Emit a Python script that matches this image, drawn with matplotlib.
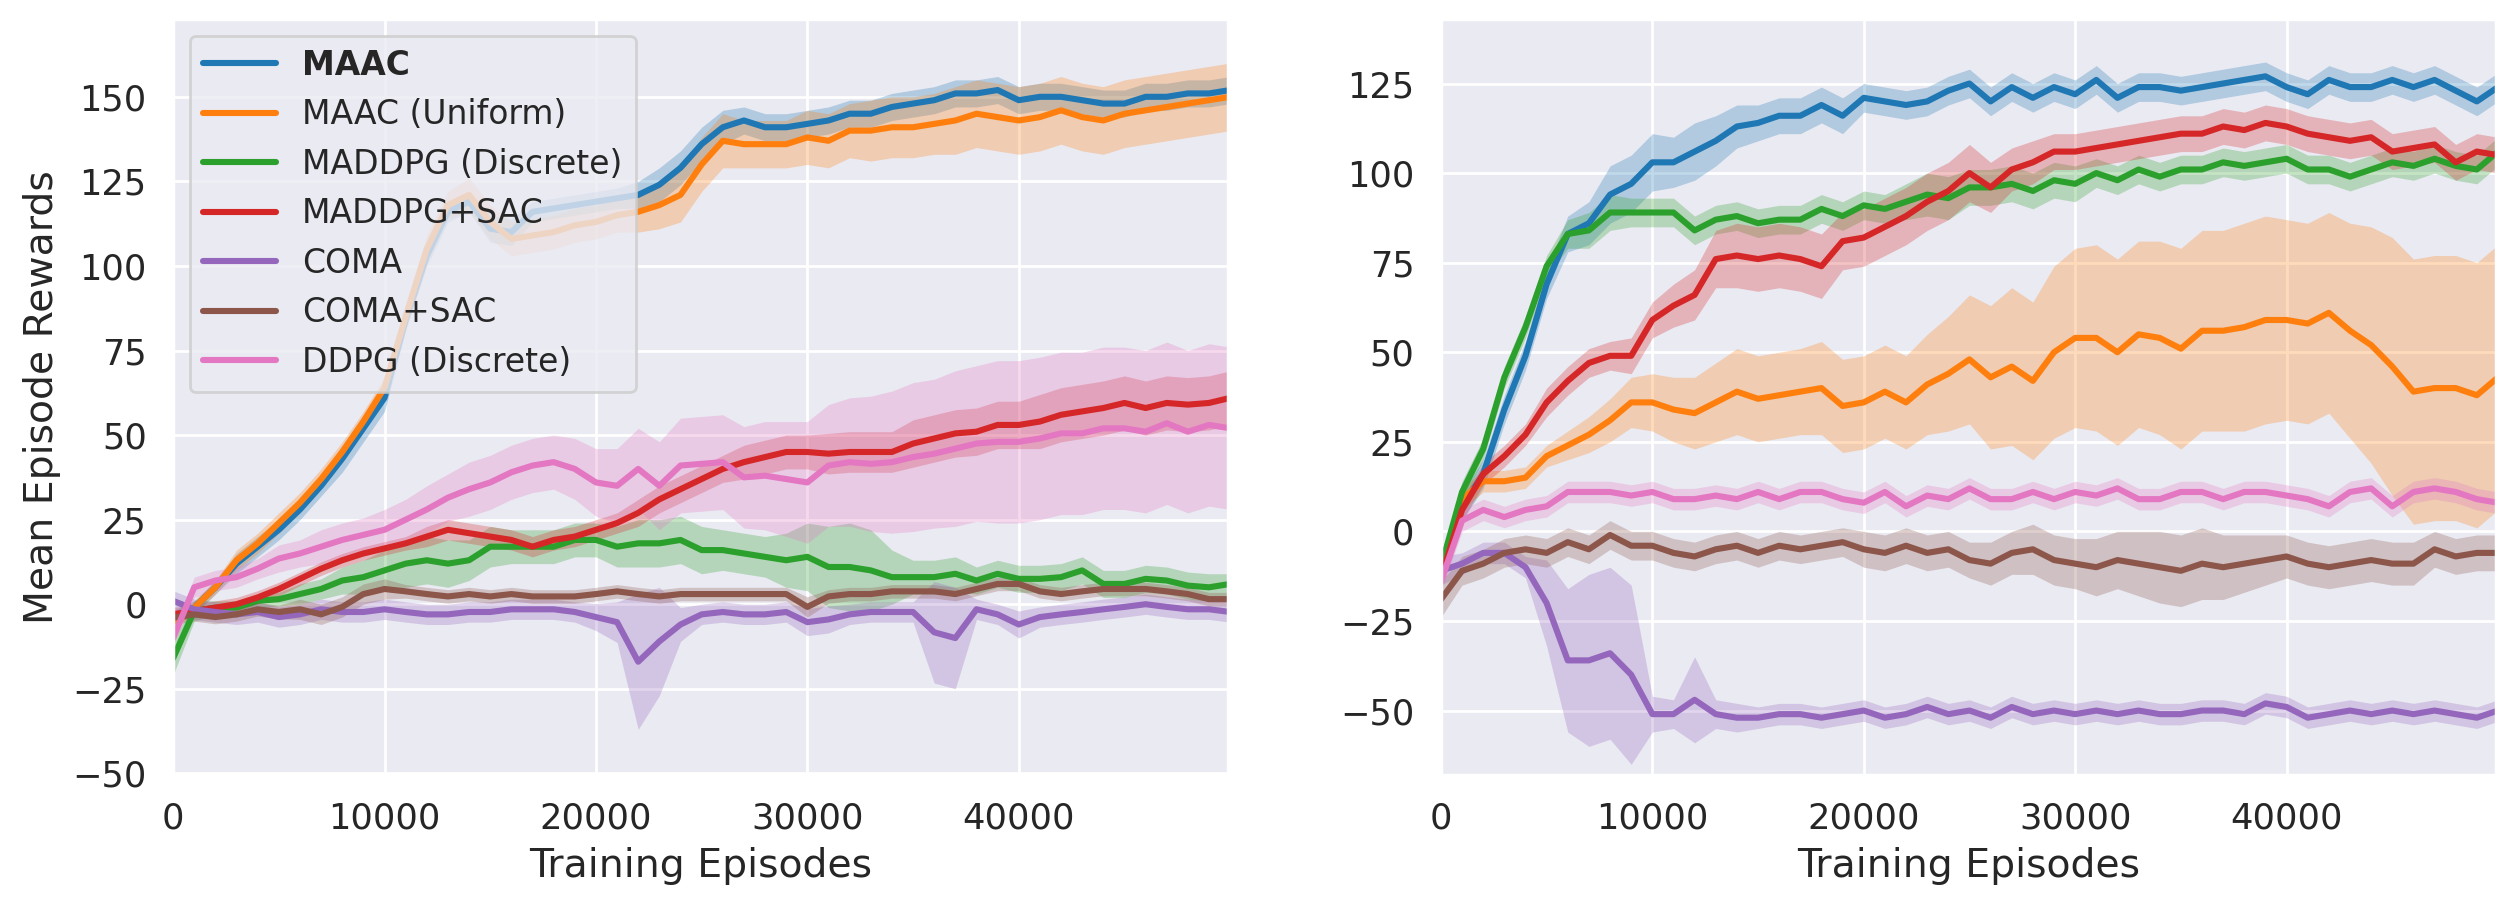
import numpy as np
import seaborn as sns
import matplotlib
matplotlib.use('Agg')
from matplotlib import pyplot as plt

# episodes grid (every 1000 episodes)
episodes = np.arange(0, 50001, 1000)
labels = ['MAAC', 'MAAC (Uniform)', 'MADDPG (Discrete)', 'MADDPG+SAC',
          'COMA', 'COMA+SAC', 'DDPG (Discrete)']
colors = ['#1f77b4', '#ff7f0e', '#2ca02c', '#d62728', '#9467bd', '#8c564b', '#e377c2']

# ---- left panel: mean reward and band half-width ----
maac_l = [-4, -1, 5, 12, 17, 22, 28, 35, 43, 52, 61,
          84, 103, 116, 119, 111, 110, 116, 117, 118, 119,
          120, 121, 124, 129, 136, 141, 143, 141, 141, 142,
          143, 145, 145, 147, 148, 149, 151, 151, 152, 149,
          150, 150, 149, 148, 148, 150, 150, 151, 151, 152]
maac_l_sd = [2, 2, 2, 3, 3, 3, 3, 3, 4, 4, 4,
             3, 3, 3, 3, 4, 4, 3, 3, 3, 3,
             3, 4, 5, 5, 5, 5, 4, 4, 4, 4,
             4, 4, 4, 4, 4, 4, 4, 4, 4, 4,
             4, 4, 4, 4, 4, 4, 4, 4, 4, 4]
unif_l = [-5, -1, 5, 13, 18, 24, 30, 37, 45, 54, 64,
          85, 105, 118, 121, 113, 108, 109, 110, 112, 113,
          115, 116, 118, 121, 130, 137, 136, 136, 136, 138,
          137, 140, 140, 141, 141, 142, 143, 145, 144, 143,
          144, 146, 144, 143, 145, 146, 147, 148, 149, 150]
unif_l_sd = [2, 2, 2, 3, 3, 3, 3, 3, 3, 3, 3,
             4, 4, 4, 5, 5, 5, 5, 5, 5, 5,
             5, 6, 7, 8, 8, 8, 7, 7, 7, 8,
             8, 8, 9, 9, 9, 9, 10, 10, 10, 10,
             10, 10, 10, 10, 10, 10, 10, 10, 10, 10]
maddpg_l = [-16, -2, -1, -1, 1, 1.5, 3, 4.5, 7, 8, 10,
            12, 13, 12, 13, 17, 17, 17, 17, 19, 19,
            17, 18, 18, 19, 16, 16, 15, 14, 13, 14,
            11, 11, 10, 8, 8, 8, 9, 7, 9, 7.5,
            7.5, 8, 10, 6, 6, 7.5, 7, 5.5, 5, 6]
maddpg_l_sd = [5, 3, 2, 2, 2, 2, 3, 3, 4, 5, 6,
               7, 7, 7, 6, 6, 5, 5, 5, 5, 5,
               6, 7, 7, 7, 7, 6, 6, 6, 8, 10,
               12, 13, 12, 8, 5, 5, 5, 4, 4, 4,
               4, 4, 4, 4, 4, 4, 4, 4, 4, 3]
msac_l = [-3, -2, -1, 0, 2, 4.5, 7.5, 10.5, 13, 15, 16.5,
          18, 20, 22, 21, 20, 19, 17, 19, 20, 22,
          24, 27, 31, 34, 37, 40, 42, 43.5, 45, 45,
          44.5, 45, 45, 45, 47.5, 49, 50.5, 51, 53, 53,
          54, 56, 57, 58, 59.5, 58, 59.5, 59, 59.5, 61]
msac_l_sd = [2, 2, 2, 2, 2, 2, 2, 2, 2, 2, 2,
             2, 3, 3, 3, 3, 3, 3, 3, 3, 3,
             3, 4, 4, 4, 4, 4, 5, 5, 5, 5,
             6, 6, 6, 6, 7, 7, 7, 7, 7, 7,
             8, 8, 8, 8, 8, 8, 8, 8, 8, 8]
coma_l = [1, -1.5, -2.3, -3, -2.3, -3.8, -3, -1.5, -2.3, -2.3, -1.5,
          -2.3, -3, -3, -2.3, -2.3, -1.5, -1.5, -1.5, -2.3, -3.8,
          -5.3, -17, -11, -6, -3, -2.3, -3, -3, -2.3, -5.3,
          -4.5, -3, -2.3, -2.3, -2.3, -8.3, -10, -1.5, -3, -6,
          -3.8, -3, -2.3, -1.5, -0.8, 0, -0.8, -1.5, -1.5, -2.3]
coma_l_sd = [3, 3, 3, 3, 3, 3, 3, 3, 3, 3, 3,
             3, 3, 3, 3, 3, 3, 3, 3, 3, 4,
             6, 20, 16, 5, 3, 3, 3, 3, 3, 4,
             4, 3, 3, 3, 3, 15, 15, 3, 3, 4,
             3, 3, 3, 3, 3, 3, 3, 3, 3, 3]
csac_l = [-4, -3, -3.8, -3, -1.5, -2.3, -1.5, -3, -0.8, 3, 4.5,
          3.8, 3, 2.3, 3, 2.3, 3, 2.3, 2.3, 2.3, 3,
          3.8, 3, 2.3, 3, 3, 3, 3, 3, 3, -0.8,
          2.3, 3, 3, 3.8, 3.8, 3.8, 3, 4.5, 6, 6,
          3.8, 3, 3.8, 4.5, 4.5, 4.5, 3.8, 3, 1.5, 1.5]
csac_l_sd = [2, 2, 2, 2, 2, 2, 3, 3, 3, 3, 3,
             2, 2, 2, 2, 2, 2, 2, 2, 2, 2,
             2, 2, 2, 2, 2, 2, 2, 2, 2, 3,
             2, 2, 2, 2, 2, 2, 2, 2, 2, 2,
             2, 2, 2, 2, 2, 2, 2, 2, 2, 2]
ddpg_l = [-10, 5, 7, 8, 10.5, 13.5, 15, 17, 19, 20.5, 22,
          25, 28, 31.5, 34, 36, 39, 41, 42, 40, 36,
          35, 40, 35, 41, 41.5, 42, 37.5, 38, 37, 36,
          41, 42, 41.5, 42, 43.5, 44.5, 46, 47.5, 48, 48,
          49, 50.5, 50.5, 52, 52, 51, 53.5, 51, 53, 52]
ddpg_l_sd = [2, 3, 3, 3, 3, 4, 4, 5, 5, 5, 6,
             6, 7, 7, 8, 8, 8, 8, 8, 9, 10,
             11, 12, 13, 14, 14, 14, 15, 16, 17, 18,
             18, 19, 20, 21, 22, 22, 23, 23, 24, 24,
             24, 24, 24, 24, 24, 24, 24, 24, 24, 24]

# ---- right panel ----
maac_r = [-13, 7, 16, 34, 49, 69, 83, 86, 94, 97, 103,
          103, 106, 109, 113, 114, 116, 116, 119, 116, 121,
          120, 119, 120, 123, 125, 120, 124, 121, 124, 122,
          126, 121, 124, 124, 123, 124, 125, 126, 127, 124,
          122, 126, 124, 124, 126, 124, 126, 123, 120, 124]
maac_r_sd = [3, 4, 4, 4, 4, 4, 5, 6, 8, 8, 8,
             7, 8, 7, 6, 5, 5, 5, 5, 5, 4,
             4, 4, 4, 4, 4, 4, 4, 4, 4, 4,
             4, 4, 4, 4, 4, 4, 4, 4, 4, 4,
             4, 4, 4, 4, 4, 4, 4, 4, 4, 4]
unif_r = [-10, 9, 14, 14, 15, 21, 24, 27, 31, 36, 36,
          34, 33, 36, 39, 37, 38, 39, 40, 35, 36,
          39, 36, 41, 44, 48, 43, 46, 42, 50, 54,
          54, 50, 55, 54, 51, 56, 56, 57, 59, 59,
          58, 61, 56, 52, 46, 39, 40, 40, 38, 43]
unif_r_sd = [3, 3, 3, 3, 3, 3, 4, 5, 6, 7, 8,
             9, 10, 11, 12, 12, 12, 12, 13, 13, 13,
             13, 13, 14, 16, 18, 20, 22, 22, 24, 25,
             26, 26, 26, 27, 28, 28, 28, 29, 29, 28,
             28, 28, 30, 33, 36, 37, 37, 37, 37, 37]
maddpg_r = [-10, 11, 23, 43, 57, 74, 83, 84, 89, 89, 89,
            89, 84, 87, 88, 86, 87, 87, 90, 88, 91,
            90, 92, 94, 93, 96, 96, 97, 95, 98, 97,
            100, 98, 101, 99, 101, 101, 103, 102, 103, 104,
            101, 101, 99, 101, 103, 102, 104, 102, 101, 106]
maddpg_r_sd = [3, 3, 3, 3, 3, 3, 4, 5, 5, 4, 4,
               4, 4, 4, 4, 4, 4, 4, 4, 4, 4,
               4, 5, 6, 6, 5, 5, 5, 5, 5, 5,
               4, 4, 4, 4, 4, 4, 4, 4, 4, 4,
               4, 4, 4, 4, 4, 4, 4, 4, 4, 4]
msac_r = [-13, 6, 16, 21, 27, 36, 42, 47, 49, 49, 59,
          63, 66, 76, 77, 76, 77, 76, 74, 81, 82,
          85, 88, 92, 95, 100, 96, 101, 103, 106, 106,
          107, 108, 109, 110, 111, 111, 113, 112, 114, 113,
          111, 110, 109, 110, 106, 107, 108, 103, 106, 105]
msac_r_sd = [3, 3, 3, 3, 3, 4, 4, 4, 4, 5, 5,
             6, 7, 8, 9, 9, 9, 9, 9, 8, 8,
             8, 8, 8, 8, 8, 7, 6, 6, 5, 5,
             5, 5, 5, 5, 5, 5, 5, 5, 5, 5,
             5, 5, 5, 5, 5, 5, 5, 5, 5, 5]
coma_r = [-11, -9, -6, -6, -10, -20, -36, -36, -34, -40, -51,
          -51, -47, -51, -52, -52, -51, -51, -52, -51, -50,
          -52, -51, -49, -51, -50, -52, -49, -51, -50, -51,
          -50, -51, -50, -51, -51, -50, -50, -51, -48, -49,
          -52, -51, -50, -51, -50, -51, -50, -51, -52, -50]
coma_r_sd = [4, 3, 3, 3, 3, 12, 20, 24, 24, 25, 5,
             4, 12, 4, 4, 3, 3, 3, 3, 3, 3,
             3, 3, 3, 3, 3, 3, 3, 3, 3, 3,
             3, 3, 3, 3, 3, 3, 3, 3, 3, 3,
             3, 3, 3, 3, 3, 3, 3, 3, 3, 3]
csac_r = [-19, -11, -9, -6, -5, -6, -3, -5, -1, -4, -4,
          -6, -7, -5, -4, -6, -4, -5, -4, -3, -5,
          -6, -4, -6, -5, -8, -9, -6, -5, -8, -9,
          -10, -8, -9, -10, -11, -9, -10, -9, -8, -7,
          -9, -10, -9, -8, -9, -9, -5, -7, -6, -6]
csac_r_sd = [5, 4, 4, 4, 4, 4, 4, 4, 4, 4, 4,
             4, 4, 4, 4, 4, 4, 4, 4, 4, 5,
             5, 5, 5, 5, 5, 6, 6, 7, 7, 7,
             8, 8, 9, 10, 10, 10, 9, 8, 7, 6,
             6, 6, 6, 6, 6, 6, 5, 5, 5, 5]
ddpg_r = [-14, 3, 6, 4, 6, 7, 11, 11, 11, 10, 11,
          9, 9, 10, 9, 11, 9, 11, 11, 9, 8,
          11, 7, 10, 9, 12, 9, 9, 11, 9, 11,
          10, 12, 9, 9, 11, 11, 9, 11, 11, 10,
          9, 7, 11, 12, 7, 11, 12, 11, 9, 8]
ddpg_r_sd = [3, 3, 3, 3, 3, 3, 3, 3, 3, 3, 3,
             3, 3, 3, 3, 3, 3, 3, 3, 3, 3,
             3, 3, 3, 3, 3, 3, 3, 3, 3, 3,
             3, 3, 3, 3, 3, 3, 3, 3, 3, 3,
             3, 3, 3, 3, 3, 3, 3, 3, 3, 3]

left_means = [maac_l, unif_l, maddpg_l, msac_l, coma_l, csac_l, ddpg_l]
left_sds = [maac_l_sd, unif_l_sd, maddpg_l_sd, msac_l_sd, coma_l_sd, csac_l_sd, ddpg_l_sd]
right_means = [maac_r, unif_r, maddpg_r, msac_r, coma_r, csac_r, ddpg_r]
right_sds = [maac_r_sd, unif_r_sd, maddpg_r_sd, msac_r_sd, coma_r_sd, csac_r_sd, ddpg_r_sd]

sns.set_theme(style='darkgrid')
plt.rcParams['font.family'] = ['DejaVu Sans']

fig = plt.figure(figsize=(12.58, 4.525), dpi=200)
ax1 = fig.add_axes([0.0688, 0.1436, 0.4193, 0.8354])
ax2 = fig.add_axes([0.5727, 0.1436, 0.4193, 0.8354])

for ax, means, sds in [(ax1, left_means, left_sds), (ax2, right_means, right_sds)]:
    for mean, sd, lab, c in zip(means, sds, labels, colors):
        mean = np.array(mean, dtype=float)
        sd = np.array(sd, dtype=float)
        ax.plot(episodes, mean, color=c, lw=2.2, label=lab)
        ax.fill_between(episodes, mean - sd, mean + sd, color=c, alpha=0.28, lw=0)
    ax.set_xlim(0, 49900)
    ax.set_xticks([0, 10000, 20000, 30000, 40000])
    ax.set_xlabel('Training Episodes', fontsize=14.2)
    ax.tick_params(labelsize=12.7)

ax1.set_ylim(-50.5, 173)
ax1.set_yticks([-50, -25, 0, 25, 50, 75, 100, 125, 150])
ax1.set_ylabel('Mean Episode Rewards', fontsize=14.2)
ax2.set_ylim(-68, 143)
ax2.set_yticks([-50, -25, 0, 25, 50, 75, 100, 125])

leg = ax1.legend(loc='upper left', fontsize=11.9, framealpha=0.8, handlelength=2.2)
leg.get_texts()[0].set_fontweight('bold')
for line in leg.get_lines():
    line.set_linewidth(2.2)

plt.savefig('out.png', dpi=200)
